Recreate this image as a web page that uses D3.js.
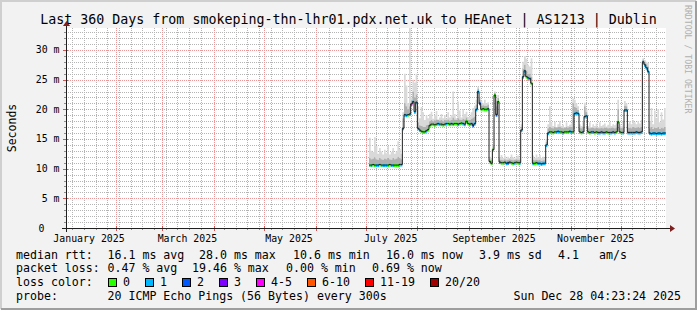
<!DOCTYPE html>
<html>
<head>
<meta charset="utf-8">
<script src="https://cdn.jsdelivr.net/npm/d3@7"></script>
<style>
  body { margin: 0; background: #f2f2f2; }
  svg text { font-family: "DejaVu Sans Mono", monospace; fill: #000; }
</style>
</head>
<body>
<div id="chart"></div>
<script>
// graph window: 360 days ending at the probe timestamp
var endTime = new Date(Date.UTC(2025, 11, 28, 4, 23, 24));
var firstDay = new Date(Date.UTC(2025, 6, 3)); // first day with data, one value per day after

var medianMs = [
  10.6,10.6,10.7,10.6,10.6,10.6,10.7,10.6,10.6,10.6,10.6,10.6,10.7,10.6,10.6,10.6,10.6,10.6,10.7,10.7,
  16.8, 19.1,19.0,19.1,19.2, 20.9,21.3,19.6,21.2, 16.8,
  16.5,16.3,16.2,16.2,16.4,16.6,17.3,
  17.5,17.5,17.4,17.5,17.6,17.5,17.5,17.4,17.5,17.6,
  17.6,17.5,17.6,17.5,17.6,17.6,17.5,17.6,17.7,17.6,17.5,18.0,17.6,17.5,17.6,17.3,17.6,
  20.0,23.0,21.0, 20.0,20.1,20.0,20.0,20.1,
  11.2,10.9,13.2,22.4,19.1,21.3,
  11.1,11.0,11.0,11.1,10.9,11.0,11.1,11.0,10.9,11.0,11.1,11.0,11.0,
  16.5,25.5,26.5,25.5,25.3,25.2,24.4,
  10.9,10.9,11.0,10.9,10.9,10.8,10.9,10.9,
  14.0,16.0,
  16.2,16.2,16.1,16.2,16.2,16.3,16.2,16.2,16.1,16.2,16.2,16.2,16.3,16.2,
  16.2, 19.3,19.4,19.3, 16.2,16.1,16.2, 18.8,18.9,
  16.2,16.1,16.2,16.2,16.1,16.2,16.1,16.1,16.2,16.1,16.1,16.2,16.1,16.1,16.1,16.2,16.1,16.2,
  17.9, 16.2,16.1,16.1, 19.9,19.9,
  16.1,16.1,16.1,16.1,16.1,16.2,16.1,16.1,16.2,
  28.0,27.5,27.0,26.4,
  16.0,15.9,16.0,16.0,15.9,16.0,16.0,15.9,16.0,16.0
];

var smokeMidMs = [
  11.8,11.6,11.7,11.9,11.6,11.5,11.8,11.6,11.5,11.7,11.6,11.8,11.6,11.5,11.8,11.6,11.7,12.0,11.8,11.6,
  18.5, 21.0,20.5,20.0,20.5, 21.5,23.0,22.0,22.5, 17.8,
  17.3,17.2,17.0,17.0,17.3,17.4,18.0,
  18.2,18.0,18.1,18.3,18.2,18.1,18.2,18.0,18.2,18.1,
  18.3,18.1,18.2,18.6,18.3,18.2,18.5,18.3,18.2,18.4,18.3,18.6,18.2,18.2,18.4,18.6,18.8,
  20.8,23.5,21.6, 20.6,20.7,20.6,20.6,20.8,
  11.6,11.4,13.6,22.8,20.5,21.9,
  11.5,11.5,11.4,11.6,11.4,11.5,11.6,11.5,11.4,11.5,11.6,11.5,11.5,
  17.0,26.8,27.5,26.5,26.0,26.0,25.5,
  11.5,11.4,11.5,11.4,11.5,11.3,11.4,11.4,
  14.5,16.8,
  17.0,16.9,16.8,17.0,16.9,17.0,17.0,16.9,16.8,16.9,17.0,16.9,17.0,17.0,
  21.0, 20.4,20.2,19.9, 16.9,16.8,17.0, 20.5,19.5,
  16.9,16.8,16.9,16.9,16.8,16.9,16.8,16.8,16.9,16.8,16.9,16.9,16.8,16.8,16.9,16.9,16.8,16.9,
  20.0, 16.9,16.8,16.9, 20.6,20.5,
  16.9,16.9,16.8,17.0,16.9,16.9,17.0,16.9,17.0,
  28.4,28.0,27.6,27.2,
  16.8,17.0,16.7,16.9,16.8,17.0,16.7,16.9,16.8,17.0
];

var smokeHiMs = [
  15.2,13.0,12.8,15.3,13.8,12.5,13.5,12.9,12.4,13.2,12.6,13.8,12.4,12.8,13.5,12.5,12.9,14.6,13.3,12.5,
  19.5, 26.0,24.0,21.0,34.5, 22.0,25.0,24.5,26.0, 20.5,
  18.5,20.4,19.5,18.2,19.0,18.5,19.2,
  19.6,18.4,19.0,19.7,18.3,18.6,19.2,18.5,19.0,18.4,
  19.5,18.6,19.0,23.0,19.2,18.5,21.3,19.8,18.6,20.0,19.2,19.6,18.7,18.8,19.5,20.2,20.6,
  21.6,23.8,22.0, 21.5,21.0,21.6,21.0,21.2,
  12.0,11.8,14.0,23.0,21.5,22.4,
  11.9,12.3,11.8,12.2,11.7,12.0,11.8,12.4,11.9,11.7,12.0,12.2,11.9,
  17.5,28.0,29.0,28.5,27.5,27.2,28.6,
  12.2,11.8,12.4,11.9,12.3,11.8,12.0,11.8,
  15.0,17.5,
  20.5,17.8,17.2,17.9,17.0,17.5,18.0,17.2,17.4,17.0,17.8,17.2,17.4,17.6,
  21.8, 21.6,21.0,20.5, 17.5,17.2,17.8, 21.1,20.0,
  17.2,17.8,17.0,17.5,17.2,17.6,17.0,17.8,17.2,17.4,17.6,17.1,17.4,17.8,17.2,17.5,17.3,17.6,
  21.6, 17.5,17.2,18.0, 21.4,21.0,
  17.6,18.0,17.5,18.2,17.8,17.5,18.0,17.6,18.2,
  28.6,28.3,28.0,27.8,
  18.0,20.2,17.5,19.8,18.5,20.0,17.8,19.5,18.3,20.2
];

var lossPings = [
  0,1,0,0,1,1,0,0,1,1,1,0,0,1,1,0,0,0,1,1,
  1, 1,1,0,1, 4,1,1,1, 1,
  0,0,0,0,1,0,0,
  0,0,0,0,1,0,1,0,0,1,
  0,0,1,0,0,0,1,0,0,1,1,0,0,0,1,2,1,
  1,1,2, 0,0,0,0,1,
  0,0,0,0,2,0,
  1,0,0,0,1,2,1,0,0,1,0,0,1,
  1,1,1,0,1,1,0,
  1,0,0,1,1,1,1,1,
  1,1,
  0,0,0,0,1,1,0,0,1,0,0,0,1,1,
  0, 1,1,1, 0,0,1, 1,1,
  0,0,1,1,0,0,1,1,1,1,1,0,0,1,1,1,1,0,
  0, 0,0,1, 1,1,
  1,1,1,1,1,1,1,1,1,
  1,1,1,1,
  1,1,1,1,1,1,1,1,1,1
];

var yTicksMs = [0, 5, 10, 15, 20, 25, 30];
var yTickLabels = ["0", "5 m", "10 m", "15 m", "20 m", "25 m", "30 m"];
var xLabelMonths = ["2025-01", "2025-03", "2025-05", "2025-07", "2025-09", "2025-11"];
var xLabels = ["January 2025", "March 2025", "May 2025", "July 2025", "September 2025", "November 2025"];

var lossLabels = ["0", "1", "2", "3", "4-5", "6-10", "11-19", "20/20"];
var lossUpper = [0, 1, 2, 3, 5, 10, 19, 20];
var lossColors = ["#26ff00", "#00b8ff", "#0059ff", "#7e00ff", "#ff00ff", "#ff5500", "#ff0000", "#a00000"];

var rttLine = [
  ["median rtt:", 16], ["16.1 ms avg", 107.5], ["28.0 ms max", 199], ["10.6 ms min", 293],
  ["16.0 ms now", 386], ["3.9 ms sd", 479], ["4.1", 558], ["am/s", 599]
];
var lossLine = [
  ["packet loss:", 16], ["0.47 % avg", 107.5], ["19.46 % max", 192], ["0.00 % min", 286], ["0.69 % now", 372]
];
var lossBoxX = [108, 145, 182, 219, 256, 307, 365, 430];

var W = 697, H = 310;
var X0 = 66, X1 = 666, Y0 = 228, Y1 = 28;

var startTime = d3.utcDay.offset(endTime, -360);
var x = d3.scaleUtc().domain([startTime, endTime]).range([X0, X1]);
var y = d3.scaleLinear().domain([0, 33.7]).range([Y0, Y1]);

var svg = d3.select("#chart").append("svg")
  .attr("width", W).attr("height", H);

// frame with rrdtool style shading
svg.append("rect").attr("width", W).attr("height", H).attr("fill", "#f2f2f2");
svg.append("path").attr("d", "M1," + (H - 1) + "V1H" + (W - 1))
  .attr("fill", "none").attr("stroke", "#cfcfcf").attr("stroke-width", 2);
svg.append("path").attr("d", "M1," + (H - 1) + "H" + (W - 1) + "V1")
  .attr("fill", "none").attr("stroke", "#9e9e9e").attr("stroke-width", 2);

svg.append("rect").attr("x", X0).attr("y", Y1).attr("width", X1 - X0).attr("height", Y0 - Y1)
  .attr("fill", "#ffffff");

// grid
var grid = svg.append("g");
var minorY = d3.range(1, 34).filter(function (v) { return v % 5 !== 0; });
var majorY = yTicksMs.filter(function (v) { return v > 0; });
var months = d3.utcMonth.range(startTime, endTime);
var weeks = d3.utcMonday.range(startTime, endTime).filter(function (d) {
  return !months.some(function (m) { return Math.abs(x(m) - x(d)) < 2; });
});

function px(v) { return Math.round(v) + 0.5; }

grid.selectAll(".gy").data(minorY).enter().append("line")
  .attr("x1", X0).attr("x2", X1)
  .attr("y1", function (d) { return px(y(d)); }).attr("y2", function (d) { return px(y(d)); })
  .attr("stroke", "#b4b4b4").attr("stroke-dasharray", "1,1");
grid.selectAll(".gx").data(weeks).enter().append("line")
  .attr("y1", Y1).attr("y2", Y0)
  .attr("x1", function (d) { return px(x(d)); }).attr("x2", function (d) { return px(x(d)); })
  .attr("stroke", "#b4b4b4").attr("stroke-dasharray", "1,1");
grid.selectAll(".my").data(majorY).enter().append("line")
  .attr("x1", X0).attr("x2", X1)
  .attr("y1", function (d) { return px(y(d)); }).attr("y2", function (d) { return px(y(d)); })
  .attr("stroke", "#eb9696").attr("stroke-dasharray", "1,1");
grid.selectAll(".mx").data(months).enter().append("line")
  .attr("y1", Y1).attr("y2", Y0)
  .attr("x1", function (d) { return px(x(d)); }).attr("x2", function (d) { return px(x(d)); })
  .attr("stroke", "#eb9696").attr("stroke-dasharray", "1,1");

// tick marks on the axes
grid.selectAll(".ty").data(minorY).enter().append("line")
  .attr("x1", X0 - 2).attr("x2", X0)
  .attr("y1", function (d) { return px(y(d)); }).attr("y2", function (d) { return px(y(d)); })
  .attr("stroke", "#8e8e8e");
grid.selectAll(".tmy").data(majorY).enter().append("line")
  .attr("x1", X0 - 3).attr("x2", X0 + 2)
  .attr("y1", function (d) { return px(y(d)); }).attr("y2", function (d) { return px(y(d)); })
  .attr("stroke", "#de4f4f");
grid.selectAll(".tx").data(weeks).enter().append("line")
  .attr("y1", Y0).attr("y2", Y0 + 2)
  .attr("x1", function (d) { return px(x(d)); }).attr("x2", function (d) { return px(x(d)); })
  .attr("stroke", "#8e8e8e");
grid.selectAll(".tmx").data(months).enter().append("line")
  .attr("y1", Y0 - 2).attr("y2", Y0 + 3)
  .attr("x1", function (d) { return px(x(d)); }).attr("x2", function (d) { return px(x(d)); })
  .attr("stroke", "#de4f4f");

// data points, one per day
var points = medianMs.map(function (m, i) {
  return {
    t: d3.utcDay.offset(firstDay, i), med: m, mid: smokeMidMs[i], hi: smokeHiMs[i], loss: lossPings[i]
  };
});
var lastPt = points[points.length - 1];
var stepPts = points.concat([Object.assign({}, lastPt, { t: d3.utcDay.offset(firstDay, points.length) })]);

var plot = svg.append("g");

var outerSmoke = d3.area().curve(d3.curveStepAfter)
  .x(function (d) { return x(d.t); })
  .y0(function (d) { return y(d.mid); })
  .y1(function (d) { return Math.max(Y1, y(d.hi)); });
var innerSmoke = d3.area().curve(d3.curveStepAfter)
  .x(function (d) { return x(d.t); })
  .y0(function (d) { return y(d.med) + 1; })
  .y1(function (d) { return y(d.mid); });

plot.append("path").datum(stepPts).attr("d", outerSmoke).attr("fill", "#d9d9d9");
plot.append("path").datum(stepPts).attr("d", innerSmoke).attr("fill", "#b0b0b0");

function lossColor(n) {
  var k = lossUpper.findIndex(function (u) { return n <= u; });
  return lossColors[k];
}

plot.selectAll(".loss").data(points).enter().append("line")
  .attr("x1", function (d) { return x(d.t); })
  .attr("x2", function (d) { return x(d3.utcDay.offset(d.t, 1)); })
  .attr("y1", function (d) { return y(d.med) + 0.5; })
  .attr("y2", function (d) { return y(d.med) + 0.5; })
  .attr("stroke", function (d) { return lossColor(d.loss); })
  .attr("stroke-width", 3);

var medLine = d3.line().curve(d3.curveStepAfter)
  .x(function (d) { return x(d.t); })
  .y(function (d) { return y(d.med); });
plot.append("path").datum(stepPts).attr("d", medLine)
  .attr("fill", "none").attr("stroke", "#202020").attr("stroke-width", 1);

// axes
svg.append("line").attr("x1", X0 - 4).attr("x2", X1 + 5).attr("y1", Y0 + 0.5).attr("y2", Y0 + 0.5)
  .attr("stroke", "#1f1f1f");
svg.append("path").attr("d", "M" + (X1 + 4) + "," + (Y0 - 3) + "L" + (X1 + 9) + "," + (Y0 + 0.5) + "L" + (X1 + 4) + "," + (Y0 + 4) + "Z")
  .attr("fill", "#801f1f");
svg.append("line").attr("x1", X0 + 0.5).attr("x2", X0 + 0.5).attr("y1", Y0 + 4).attr("y2", Y1 - 3)
  .attr("stroke", "#1f1f1f");
svg.append("path").attr("d", "M" + (X0 - 3) + "," + (Y1 - 2) + "L" + (X0 + 0.5) + "," + (Y1 - 7) + "L" + (X0 + 4) + "," + (Y1 - 2) + "Z")
  .attr("fill", "#801f1f");

// axis labels
svg.selectAll(".yl").data(yTicksMs).enter().append("text")
  .attr("x", function (d) { return d === 0 ? 44.5 : 59.5; })
  .attr("y", function (d) { return y(d) + 3.5; })
  .attr("text-anchor", "end").style("font-size", "9.9px")
  .text(function (d, i) { return yTickLabels[i]; });

var parseMonth = d3.utcParse("%Y-%m");
svg.selectAll(".xl").data(xLabelMonths).enter().append("text")
  .attr("x", function (d) { return x(d3.utcDay.offset(parseMonth(d), 15)); })
  .attr("y", 241.5)
  .attr("text-anchor", "middle").style("font-size", "9.9px")
  .text(function (d, i) { return xLabels[i]; });

svg.append("text").attr("transform", "translate(16,128) rotate(-90)")
  .attr("text-anchor", "middle").style("font-size", "11.5px").text("Seconds");

svg.append("text").attr("x", 348.5).attr("y", 23.5).attr("text-anchor", "middle")
  .style("font-size", "13.3px")
  .text("Last 360 Days from smokeping-thn-lhr01.pdx.net.uk to HEAnet | AS1213 | Dublin");

svg.append("text").attr("transform", "translate(685,5) rotate(90)")
  .style("font-size", "8.2px").style("fill", "#b0b0b0")
  .text("RRDTOOL / TOBI OETIKER");

// legend
var legend = svg.append("g").style("font-size", "11.6px");
legend.selectAll(".r1").data(rttLine).enter().append("text")
  .attr("x", function (d) { return d[1]; }).attr("y", 258.5).text(function (d) { return d[0]; });
legend.selectAll(".r2").data(lossLine).enter().append("text")
  .attr("x", function (d) { return d[1]; }).attr("y", 272.3).text(function (d) { return d[0]; });
legend.append("text").attr("x", 16).attr("y", 286).text("loss color:");
legend.selectAll(".lb").data(lossLabels).enter().append("rect")
  .attr("x", function (d, i) { return lossBoxX[i] + 0.5; }).attr("y", 278.5)
  .attr("width", 8).attr("height", 8)
  .attr("fill", function (d, i) { return lossColors[i]; })
  .attr("stroke", "#000");
legend.selectAll(".lt").data(lossLabels).enter().append("text")
  .attr("x", function (d, i) { return lossBoxX[i] + 15; }).attr("y", 286)
  .text(function (d) { return d; });
legend.append("text").attr("x", 16).attr("y", 299.8).text("probe:");
legend.append("text").attr("x", 107.5).attr("y", 299.8).text("20 ICMP Echo Pings (56 Bytes) every 300s");
legend.append("text").attr("x", 681).attr("y", 299.8).attr("text-anchor", "end")
  .text(d3.utcFormat("%a %b %d %H:%M:%S %Y")(endTime));
</script>
</body>
</html>
